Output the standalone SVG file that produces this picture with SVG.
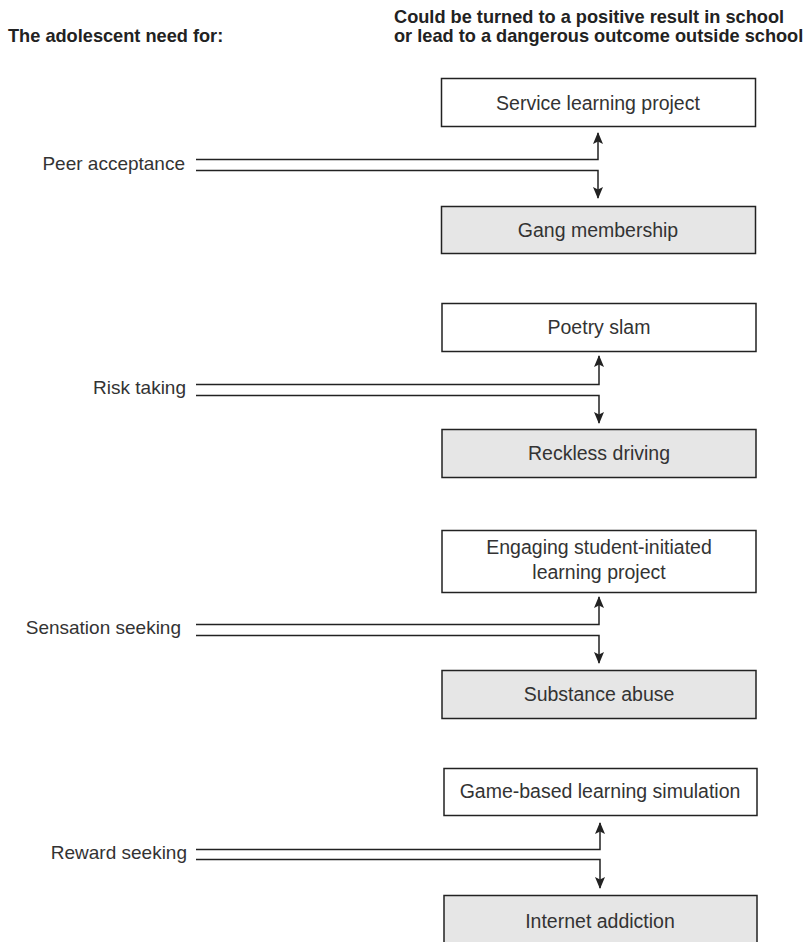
<svg xmlns="http://www.w3.org/2000/svg" width="809" height="942" viewBox="0 0 809 942">
  <style>
    .hdr { font-family: "Liberation Sans", Arial, sans-serif; font-weight: bold; font-size: 18.2px; fill: #222; }
    .lbl { font-family: "Liberation Sans", Arial, sans-serif; font-size: 19px; fill: #333; }
    .btx { font-family: "Liberation Sans", Arial, sans-serif; font-size: 19.5px; fill: #333; text-anchor: middle; }
    .box { stroke: #222; stroke-width: 1.5; }
    .pos { fill: #ffffff; }
    .neg { fill: #e6e6e6; }
    .conn { fill: none; stroke: #222; stroke-width: 1.5; }
    .end { text-anchor: end; }
  </style>
  <defs>
    <marker id="arrow" viewBox="0 0 12 12" refX="11" refY="6" markerWidth="12" markerHeight="12" markerUnits="userSpaceOnUse" orient="auto">
      <path d="M0,1 L12,6 L0,11 L2.5,6 Z" fill="#222"/>
    </marker>
  </defs>
  <rect width="809" height="942" fill="#ffffff"/>

  <g id="headers">
    <text class="hdr" x="8" y="42">The adolescent need for:</text>
    <text class="hdr" x="394" y="23">Could be turned to a positive result in school</text>
    <text class="hdr" x="394" y="42">or lead to a dangerous outcome outside school</text>
  </g>

  <g id="connectors">
    <path class="conn" d="M196,159.5 H598 V133" marker-end="url(#arrow)"/>
    <path class="conn" d="M196,170.5 H598 V198" marker-end="url(#arrow)"/>
    <path class="conn" d="M196,384.5 H599 V356" marker-end="url(#arrow)"/>
    <path class="conn" d="M196,395.5 H599 V423" marker-end="url(#arrow)"/>
    <path class="conn" d="M196,624.5 H599 V597" marker-end="url(#arrow)"/>
    <path class="conn" d="M196,635.5 H599 V663" marker-end="url(#arrow)"/>
    <path class="conn" d="M196,849.5 H600 V823" marker-end="url(#arrow)"/>
    <path class="conn" d="M196,859.5 H600 V888" marker-end="url(#arrow)"/>
  </g>

  <g id="need-peer"><text class="lbl end" x="185" y="170">Peer acceptance</text></g>
  <g id="need-risk"><text class="lbl end" x="186" y="394">Risk taking</text></g>
  <g id="need-sensation"><text class="lbl end" x="181" y="634">Sensation seeking</text></g>
  <g id="need-reward"><text class="lbl end" x="187" y="859">Reward seeking</text></g>

  <g id="service-learning">
    <rect class="box pos" x="441.5" y="78.5" width="314" height="48"/>
    <text class="btx" x="598" y="110">Service learning project</text>
  </g>
  <g id="gang-membership">
    <rect class="box neg" x="441.5" y="206.5" width="314" height="47"/>
    <text class="btx" x="598" y="237">Gang membership</text>
  </g>
  <g id="poetry-slam">
    <rect class="box pos" x="442" y="303.5" width="314" height="48"/>
    <text class="btx" x="599" y="334">Poetry slam</text>
  </g>
  <g id="reckless-driving">
    <rect class="box neg" x="442" y="429.5" width="314" height="48"/>
    <text class="btx" x="599" y="460">Reckless driving</text>
  </g>
  <g id="student-project">
    <rect class="box pos" x="442" y="530.5" width="314" height="62"/>
    <text class="btx" x="599" y="554">Engaging student-initiated</text>
    <text class="btx" x="599" y="579">learning project</text>
  </g>
  <g id="substance-abuse">
    <rect class="box neg" x="442" y="670.5" width="314" height="48"/>
    <text class="btx" x="599" y="701">Substance abuse</text>
  </g>
  <g id="game-simulation">
    <rect class="box pos" x="444" y="768.5" width="313" height="47"/>
    <text class="btx" x="600" y="798">Game-based learning simulation</text>
  </g>
  <g id="internet-addiction">
    <rect class="box neg" x="444" y="895.5" width="313" height="60"/>
    <text class="btx" x="600" y="928">Internet addiction</text>
  </g>
</svg>
